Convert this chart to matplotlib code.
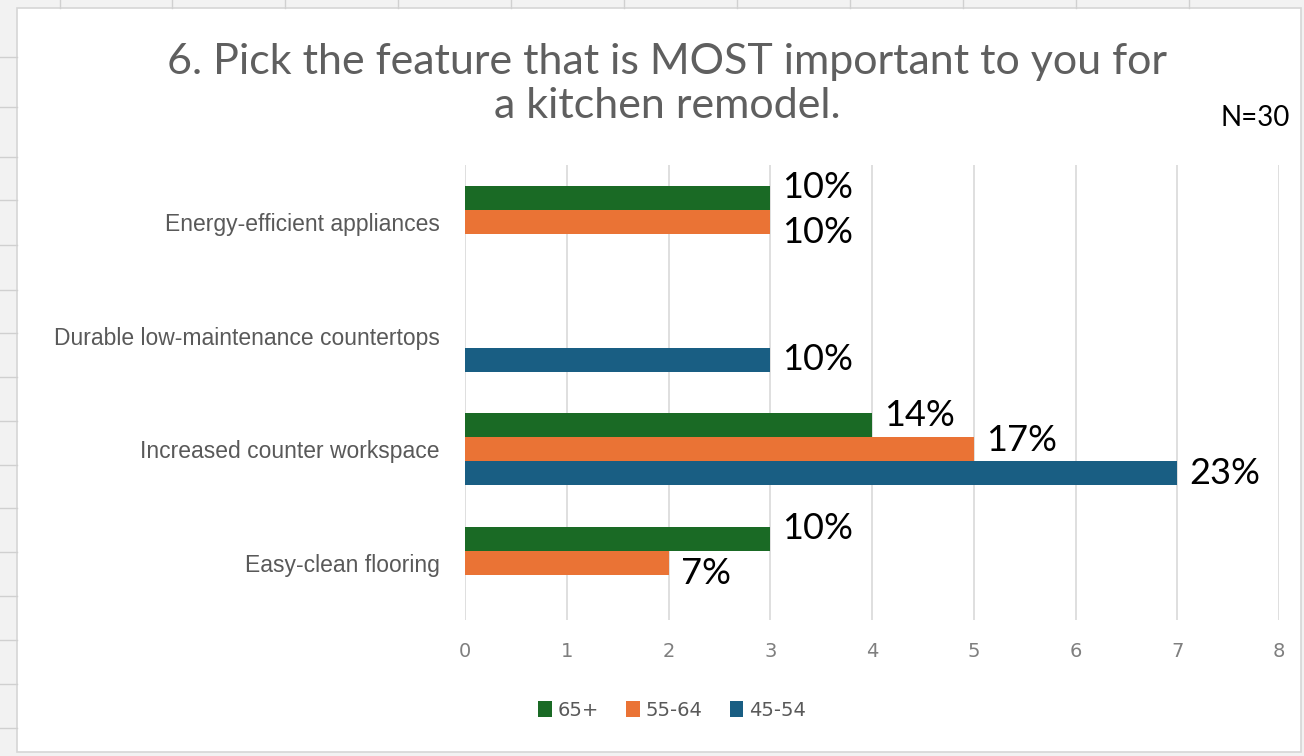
import matplotlib.pyplot as plt
from matplotlib.patches import Rectangle
from matplotlib.lines import Line2D
import numpy as np

# ---------- Dados ----------
categorias = ["Energy-efficient appliances",
              "Durable low-maintenance countertops",
              "Increased counter workspace",
              "Easy-clean flooring"]
series = ["65+", "55-64", "45-54"]
v_65 = [3, 0, 4, 3]
v_55 = [3, 0, 5, 2]
v_45 = [0, 3, 7, 0]
rotulos_65 = ["10%", "", "14%", "10%"]
rotulos_55 = ["10%", "", "17%", "7%"]
rotulos_45 = ["", "10%", "23%", ""]
cores = ["#1a6a25", "#ea7335", "#195e83"]
titulo = "6. Pick the feature that is MOST important to you for\na kitchen remodel."
n_texto = "N=30"

# ---------- Figura ----------
fig = plt.figure(figsize=(13.04, 7.56), dpi=100)
fig.patch.set_facecolor("#f2f2f2")

# linhas da planilha ao fundo
for y in [57, 107, 157, 200, 245, 290, 333, 377, 421, 465, 508, 552, 596, 640, 684, 728]:
    fig.add_artist(Line2D([0, 17 / 1304], [1 - y / 756] * 2, color="#d0d0d0", lw=1))
for x in [60, 172, 285, 398, 511, 624, 737, 850, 963, 1076, 1189]:
    fig.add_artist(Line2D([x / 1304] * 2, [1, 1 - 8 / 756], color="#d0d0d0", lw=1))

fig.add_artist(Rectangle((17 / 1304, 4 / 756), 1 - 20 / 1304, 1 - 12 / 756,
                         transform=fig.transFigure, facecolor="white",
                         edgecolor="#d6d6d6", lw=1.2, zorder=0))

ax = fig.add_axes([465 / 1304, 1 - 620 / 756, (1279 - 465) / 1304, 455 / 756])
ax.set_facecolor("none")

y = np.arange(len(categorias))
h = 0.211
dados = [v_65, v_55, v_45]
rotulos = [rotulos_65, rotulos_55, rotulos_45]
for i, (vals, rots, cor, nome) in enumerate(zip(dados, rotulos, cores, series)):
    pos = y + (i - 1) * h
    ax.barh(pos, vals, height=h, color=cor, label=nome, zorder=3)
    for k, (p, v, r) in enumerate(zip(pos, vals, rots)):
        if not r:
            continue
        # afasta os rótulos vizinhos
        if i == 0:
            dy = -0.09
        elif i == 1:
            dy = -0.08 if rotulos_45[k] else 0.09
        else:
            dy = 0.0
        ax.text(v + 0.12, p + dy, r, va="center", ha="left",
                fontsize=26, family="Lato", color="black", zorder=4)

ax.set_xlim(0, 8)
ax.set_ylim(3.5, -0.5)
ax.set_xticks(range(0, 9))
ax.set_yticks(y)
ax.set_yticklabels(categorias, fontsize=16.5, color="#595959", family="Liberation Sans")
ax.tick_params(axis="x", labelsize=14, colors="#7f7f7f", length=0, pad=16)
ax.tick_params(axis="y", length=0, pad=18)
ax.grid(axis="x", color="#d9d9d9", lw=1.2, zorder=0)
for s in ax.spines.values():
    s.set_visible(False)

fig.text(667 / 1304, 1 - 84 / 756, titulo, ha="center", va="center",
         fontsize=31, color="#5f5f5f", family="Lato", linespacing=1.2)
fig.text(1290 / 1304, 1 - 118 / 756, n_texto, ha="right", va="center",
         fontsize=20, color="black", family="Lato")

fig.legend(loc="center", bbox_to_anchor=(672 / 1304, 1 - 710 / 756), ncol=3,
           frameon=False, fontsize=14, handlelength=0.7, handleheight=0.9,
           handletextpad=0.3, columnspacing=1.4, labelcolor="#595959")

fig.savefig("out.png", dpi=100, facecolor=fig.get_facecolor())
